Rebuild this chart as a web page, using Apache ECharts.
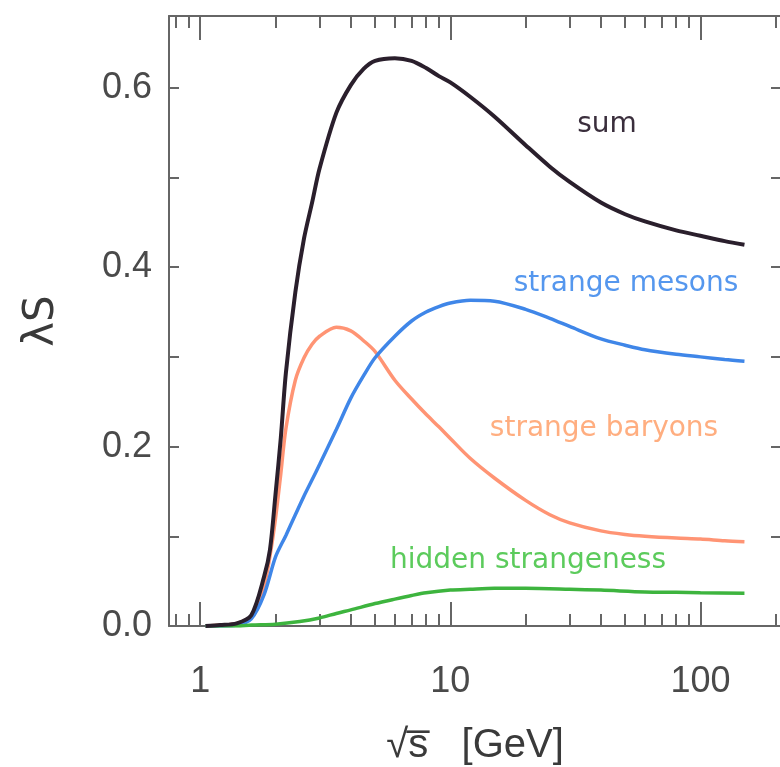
<!DOCTYPE html>
<html><head><meta charset="utf-8">
<script src="https://cdn.jsdelivr.net/npm/echarts@6/dist/echarts.min.js"></script>
<style>html,body{margin:0;padding:0;background:#fff}#c{width:780px;height:767px}</style>
</head><body><div id="c"></div>
<script>
// sqrt(s) [GeV] sample points and lambda_s values
const sumX = [1.05, 1.2, 1.4, 1.6, 1.8, 1.9, 2.0, 2.1, 2.2, 2.4, 2.6, 2.8, 3.0, 3.5, 4.0, 4.5, 5.0, 6.0, 7.0, 8.0, 9.0, 10, 12, 15, 20, 25, 30, 40, 50, 60, 80, 100, 125, 150];
const sumY = [0, 0.001, 0.003, 0.012, 0.055, 0.085, 0.147, 0.210, 0.282, 0.372, 0.432, 0.472, 0.510, 0.572, 0.603, 0.621, 0.630, 0.633, 0.630, 0.622, 0.613, 0.606, 0.590, 0.568, 0.536, 0.512, 0.495, 0.472, 0.459, 0.451, 0.441, 0.435, 0.429, 0.425];

const baryX = [1.05, 1.2, 1.4, 1.6, 1.8, 1.9, 2.0, 2.1, 2.2, 2.4, 2.6, 2.8, 3.0, 3.5, 4.0, 4.5, 5.0, 6.0, 7.0, 8.0, 9.0, 10, 12, 15, 20, 25, 30, 40, 50, 60, 80, 100, 125, 150];
const baryY = [0, 0.001, 0.003, 0.011, 0.045, 0.078, 0.120, 0.170, 0.220, 0.274, 0.299, 0.314, 0.323, 0.333, 0.329, 0.318, 0.306, 0.274, 0.253, 0.236, 0.222, 0.209, 0.187, 0.165, 0.140, 0.124, 0.115, 0.106, 0.102, 0.100, 0.098, 0.097, 0.095, 0.094];

const mesX = [1.05, 1.2, 1.4, 1.6, 1.8, 2.0, 2.2, 2.4, 2.6, 2.8, 3.0, 3.5, 4.0, 4.5, 5.0, 6.0, 7.0, 8.0, 9.0, 10, 12, 15, 20, 25, 30, 40, 50, 60, 80, 100, 125, 150];
const mesY = [0, 0, 0.001, 0.008, 0.035, 0.077, 0.101, 0.124, 0.145, 0.163, 0.180, 0.219, 0.254, 0.279, 0.299, 0.323, 0.340, 0.350, 0.356, 0.360, 0.363, 0.362, 0.353, 0.343, 0.334, 0.320, 0.313, 0.308, 0.303, 0.300, 0.297, 0.295];

const hidX = [1.05, 1.4, 1.6, 2.0, 2.5, 3.0, 3.5, 4.0, 5.0, 6.0, 7.0, 8.0, 10, 12, 15, 20, 30, 40, 60, 80, 100, 150];
const hidY = [0, 0, 0.001, 0.002, 0.005, 0.009, 0.014, 0.018, 0.025, 0.030, 0.034, 0.037, 0.040, 0.041, 0.042, 0.042, 0.041, 0.040, 0.038, 0.0375, 0.037, 0.0365];

const xMajorTicks = [1, 10, 100];
const xMinorTicks = [0.8, 0.9, 2, 3, 4, 5, 6, 7, 8, 9, 20, 30, 40, 50, 60, 70, 80, 90, 200];
const yLabelTicks = [0, 0.2, 0.4, 0.6];
const yAllTicks = [0, 0.1, 0.2, 0.3, 0.4, 0.5, 0.6];

const pairs = (xs, ys) => xs.map((x, i) => [x, ys[i]]);

const frameColor = '#666';
const labelFont = {fontFamily: 'Liberation Sans, sans-serif', fontSize: 36, color: '#4a4a4a'};

function xAx(pos, ticks, len, withLabels, showLine) {
  return {
    type: 'log', logBase: 10, position: pos, min: 0.75, max: 210,
    gridIndex: 0,
    axisLine: {show: showLine, lineStyle: {color: frameColor, width: 2}},
    axisTick: {show: true, inside: true, length: len, customValues: ticks, lineStyle: {color: frameColor, width: 2}},
    axisLabel: withLabels ? Object.assign({show: true, customValues: xMajorTicks, margin: 38}, labelFont) : {show: false},
    splitLine: {show: false}, minorTick: {show: false}
  };
}
function yAx(pos, withLabels) {
  return {
    type: 'value', position: pos, min: 0, max: 0.68,
    axisLine: {show: true, lineStyle: {color: frameColor, width: 2}},
    axisTick: {show: true, inside: true, length: 10, customValues: yAllTicks, lineStyle: {color: frameColor, width: 2}},
    axisLabel: withLabels ? Object.assign({show: true, customValues: yLabelTicks, margin: 17, formatter: v => (+v).toFixed(1)}, labelFont) : {show: false},
    splitLine: {show: false}
  };
}

const xAxes = [
  xAx('bottom', xMajorTicks, 24, true, true),
  xAx('bottom', xMinorTicks, 12, false, false),
  xAx('top', xMajorTicks, 24, false, true),
  xAx('top', xMinorTicks, 12, false, false)
];
xAxes[0].name = '√s̅   [GeV]';
xAxes[0].nameLocation = 'middle';
xAxes[0].nameGap = 100;
xAxes[0].nameTextStyle = {fontFamily: 'Liberation Sans, sans-serif', fontSize: 40, color: '#3a3a3a'};

const yAxes = [yAx('left', true), yAx('right', false)];
yAxes[0].name = 'λS';
yAxes[0].nameLocation = 'middle';
yAxes[0].nameGap = 106;
yAxes[0].nameTextStyle = {fontFamily: 'DejaVu Sans, sans-serif', fontSize: 42, color: '#3a3a3a'};

function line(name, data, color, w) {
  return {name, type: 'line', data, xAxisIndex: 0, yAxisIndex: 0, showSymbol: false,
    smooth: 0.3, lineStyle: {color, width: w}, itemStyle: {color}, z: 3};
}

const annFont = 'DejaVu Sans, sans-serif';
function ann(text, x, y, color) {
  return {type: 'text', x, y, style: {text, fill: color, font: '28px ' + annFont, textAlign: 'center', textVerticalAlign: 'middle'}, z: 10};
}

const chart = echarts.init(document.getElementById('c'), null, {renderer: 'canvas'});
chart.setOption({
  animation: false,
  backgroundColor: '#ffffff',
  grid: {left: 169, top: 16, width: 612, height: 610, containLabel: false, outerBoundsMode: 'none'},
  xAxis: xAxes,
  yAxis: yAxes,
  series: [
    line('strange baryons', pairs(baryX, baryY), '#ff9474', 3.5),
    line('strange mesons', pairs(mesX, mesY), '#3f86e8', 3.5),
    line('hidden strangeness', pairs(hidX, hidY), '#3db43e', 3.5),
    line('sum', pairs(sumX, sumY), '#2a1f2c', 4)
  ],
  graphic: [
    ann('sum', 607, 125, '#3a2e3c'),
    ann('strange mesons', 626, 284, '#5597ee'),
    ann('strange baryons', 604, 429, '#ffae80'),
    ann('hidden strangeness', 528, 561, '#5ccb5c')
  ]
});
</script>
</body></html>
